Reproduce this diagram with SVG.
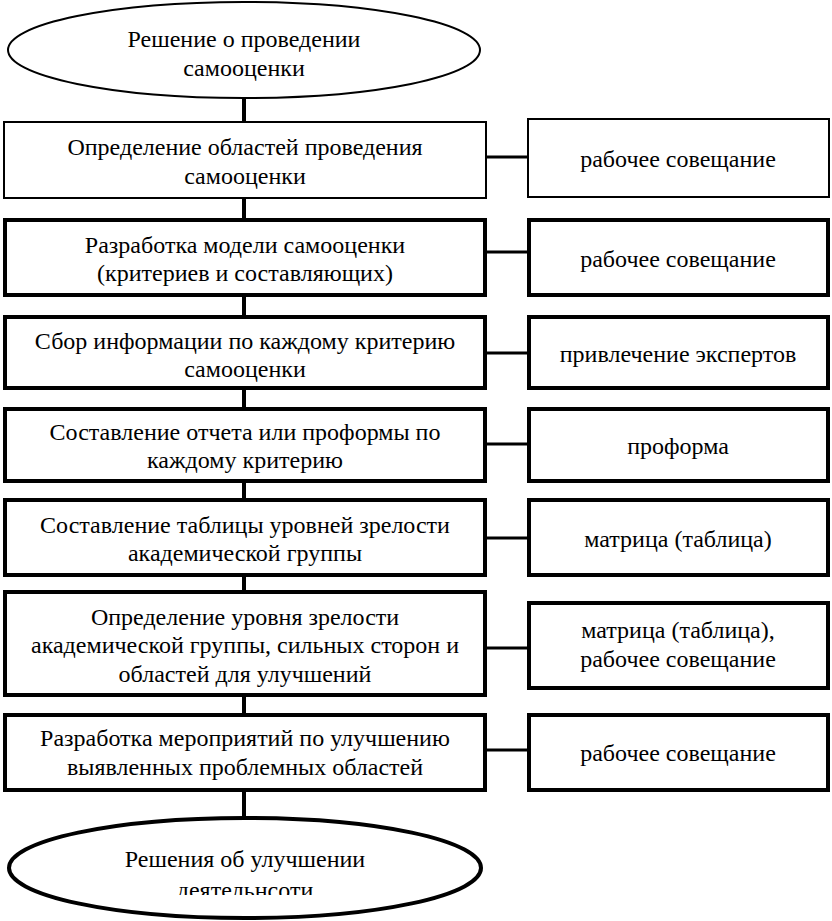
<svg xmlns="http://www.w3.org/2000/svg" width="832" height="921" viewBox="0 0 832 921">
<style>
.n{fill:#fff;stroke:#000;stroke-width:4}
.t{fill:#fff;stroke:#000;stroke-width:2}
.c line{stroke:#000}
</style>
<defs>
<clipPath id="clipEnd"><rect x="0" y="800" width="832" height="95"/></clipPath>
</defs>
<g class="c" id="connectors">
<line x1="244" y1="98" x2="244" y2="818" stroke-width="4"/>
<line x1="486" y1="157" x2="529" y2="157" stroke-width="3"/>
<line x1="486" y1="252" x2="529" y2="252" stroke-width="3"/>
<line x1="486" y1="353" x2="529" y2="353" stroke-width="3"/>
<line x1="486" y1="444" x2="529" y2="444" stroke-width="3"/>
<line x1="486" y1="538" x2="529" y2="538" stroke-width="3"/>
<line x1="486" y1="648" x2="529" y2="648" stroke-width="3"/>
<line x1="486" y1="750" x2="529" y2="750" stroke-width="3"/>
</g>
<g font-family="Liberation Serif, DejaVu Serif, serif" font-size="24" fill="#000" text-anchor="middle">
<g id="start">
<ellipse class="t" cx="244" cy="50" rx="236" ry="48"/>
<text x="244" y="47">Решение о проведении</text>
<text x="244" y="76">самооценки</text>
</g>
<g id="step1">
<rect class="t" x="4" y="122" width="482" height="76"/>
<text x="245" y="155">Определение областей проведения</text>
<text x="245" y="184">самооценки</text>
</g>
<g id="note1">
<rect class="t" x="528" y="119" width="301" height="78"/>
<text x="678" y="167">рабочее совещание</text>
</g>
<g id="step2">
<rect class="n" x="5" y="220" width="480" height="75"/>
<text x="245" y="253">Разработка модели самооценки</text>
<text x="245" y="281">(критериев и составляющих)</text>
</g>
<g id="note2">
<rect class="n" x="529" y="220" width="299" height="75"/>
<text x="678" y="267">рабочее совещание</text>
</g>
<g id="step3">
<rect class="n" x="5" y="317" width="480" height="71"/>
<text x="245" y="349">Сбор информации по каждому критерию</text>
<text x="245" y="377">самооценки</text>
</g>
<g id="note3">
<rect class="n" x="529" y="317" width="299" height="71"/>
<text x="678" y="362">привлечение экспертов</text>
</g>
<g id="step4">
<rect class="n" x="5" y="409" width="480" height="72"/>
<text x="245" y="440">Составление отчета или проформы по</text>
<text x="245" y="468">каждому критерию</text>
</g>
<g id="note4">
<rect class="n" x="529" y="409" width="299" height="72"/>
<text x="678" y="454">проформа</text>
</g>
<g id="step5">
<rect class="n" x="5" y="500" width="480" height="75"/>
<text x="245" y="533">Составление таблицы уровней зрелости</text>
<text x="245" y="561">академической группы</text>
</g>
<g id="note5">
<rect class="n" x="529" y="500" width="299" height="75"/>
<text x="678" y="547">матрица (таблица)</text>
</g>
<g id="step6">
<rect class="n" x="5" y="592" width="480" height="103"/>
<text x="245" y="625">Определение уровня зрелости</text>
<text x="245" y="653">академической группы, сильных сторон и</text>
<text x="245" y="682">областей для улучшений</text>
</g>
<g id="note6">
<rect class="n" x="529" y="603" width="299" height="85"/>
<text x="678" y="638">матрица (таблица),</text>
<text x="678" y="667">рабочее совещание</text>
</g>
<g id="step7">
<rect class="n" x="5" y="715" width="480" height="75"/>
<text x="245" y="746">Разработка мероприятий по улучшению</text>
<text x="245" y="775">выявленных проблемных областей</text>
</g>
<g id="note7">
<rect class="n" x="529" y="715" width="299" height="75"/>
<text x="678" y="761">рабочее совещание</text>
</g>
<g id="end">
<ellipse class="n" cx="245" cy="868" rx="236" ry="50"/>
<text x="245" y="867">Решения об улучшении</text>
<text x="245" y="898" clip-path="url(#clipEnd)">деятельнсоти</text>
</g>
</g>
</svg>
